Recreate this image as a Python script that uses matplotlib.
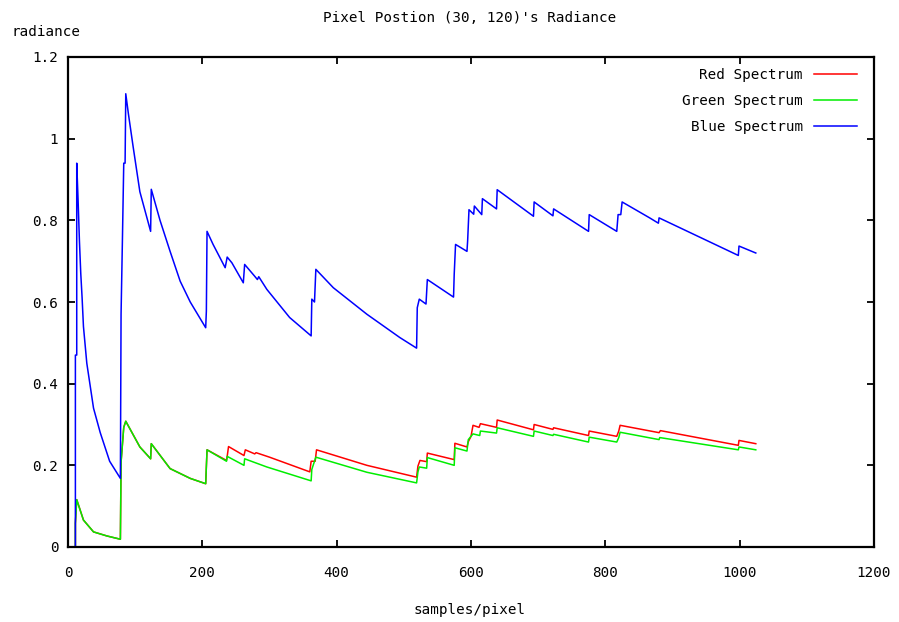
#!/usr/bin/env python
# -*- coding: utf-8 -*-

import matplotlib
matplotlib.use('Agg')
import matplotlib.pyplot as plt

# samples/pixel vs radiance
red_x = [0, 11, 11, 13, 23, 38, 58, 78, 79, 83, 86, 107, 123, 124, 152, 182,
         205, 207, 236, 237, 239, 262, 264, 278, 280, 300, 360, 362, 368, 370,
         445, 519, 521, 524, 534, 535, 575, 576, 594, 596, 600, 603, 612, 614,
         638, 639, 693, 694, 722, 723, 775, 776, 817, 820, 822, 880, 882, 998,
         999, 1024]
red_y = [0, 0, 0.058, 0.116, 0.066, 0.037, 0.027, 0.019, 0.208, 0.293, 0.308,
         0.245, 0.216, 0.253, 0.192, 0.168, 0.155, 0.238, 0.212, 0.222, 0.246,
         0.224, 0.238, 0.228, 0.231, 0.220, 0.184, 0.210, 0.210, 0.238, 0.200,
         0.171, 0.198, 0.212, 0.209, 0.230, 0.214, 0.254, 0.245, 0.258, 0.271,
         0.298, 0.293, 0.302, 0.293, 0.311, 0.287, 0.300, 0.288, 0.292, 0.273,
         0.284, 0.271, 0.284, 0.298, 0.280, 0.285, 0.249, 0.261, 0.253]

green_x = [0, 11, 11, 13, 23, 38, 58, 78, 79, 83, 86, 107, 123, 124, 152,
           182, 205, 207, 236, 237, 262, 263, 296, 362, 363, 369, 445, 519,
           521, 523, 534, 535, 575, 576, 594, 596, 603, 613, 614, 638, 639,
           693, 694, 722, 723, 775, 776, 817, 820, 822, 880, 881, 998, 999,
           1024]
green_y = [0, 0, 0.058, 0.116, 0.066, 0.037, 0.027, 0.019, 0.208, 0.293,
           0.308, 0.245, 0.216, 0.253, 0.192, 0.168, 0.155, 0.238, 0.210,
           0.222, 0.200, 0.216, 0.196, 0.162, 0.190, 0.220, 0.183, 0.157,
           0.184, 0.196, 0.193, 0.219, 0.200, 0.243, 0.235, 0.263, 0.277,
           0.273, 0.284, 0.279, 0.292, 0.271, 0.284, 0.273, 0.276, 0.257,
           0.269, 0.257, 0.268, 0.281, 0.263, 0.268, 0.238, 0.245, 0.238]

blue_x = [0, 11, 11, 13, 13, 15, 17, 19, 21, 23, 28, 38, 48, 62, 78, 79, 81,
          83, 85, 86, 90, 97, 107, 123, 124, 137, 152, 167, 182, 205, 206, 207,
          216, 234, 237, 244, 261, 263, 278, 282, 284, 296, 330, 362, 363, 367,
          369, 395, 445, 494, 519, 520, 523, 533, 535, 574, 575, 577, 594, 595,
          597, 604, 605, 616, 617, 638, 639, 693, 694, 722, 723, 775, 776, 817,
          819, 823, 825, 866, 879, 880, 998, 999, 1024]
blue_y = [0, 0, 0.47, 0.47, 0.94, 0.85, 0.75, 0.67, 0.61, 0.54, 0.45, 0.34,
          0.28, 0.21, 0.168, 0.57, 0.75, 0.94, 0.94, 1.11, 1.06, 0.98, 0.87,
          0.773, 0.876, 0.80, 0.724, 0.651, 0.60, 0.537, 0.578, 0.773, 0.741,
          0.684, 0.71, 0.696, 0.647, 0.692, 0.663, 0.655, 0.662, 0.631, 0.562,
          0.517, 0.607, 0.60, 0.68, 0.635, 0.570, 0.513, 0.487, 0.586, 0.607,
          0.595, 0.655, 0.612, 0.668, 0.741, 0.724, 0.75, 0.826, 0.815, 0.835,
          0.814, 0.853, 0.828, 0.875, 0.810, 0.845, 0.811, 0.828, 0.773, 0.814,
          0.773, 0.814, 0.814, 0.845, 0.806, 0.793, 0.806, 0.714, 0.737, 0.72]

x_ticks = [0, 200, 400, 600, 800, 1000, 1200]
y_ticks = [0, 0.2, 0.4, 0.6, 0.8, 1.0, 1.2]
y_tick_labels = ['0', '0.2', '0.4', '0.6', '0.8', '1', '1.2']

FONT = 'DejaVu Sans Mono'
W, H = 899, 622


def _plot():
    plt.rcParams['font.family'] = FONT
    plt.rcParams['font.size'] = 10.3

    fig = plt.figure(figsize=(W / 100.0, H / 100.0), dpi=100)
    ax = fig.add_axes([68.0 / W, 1 - 547.0 / H, 806.0 / W, 490.0 / H])

    ax.plot(red_x, red_y, color='#ff0000', lw=1.1, label='Red Spectrum')
    ax.plot(green_x, green_y, color='#00ee00', lw=1.1, label='Green Spectrum')
    ax.plot(blue_x, blue_y, color='#0000ff', lw=1.1, label='Blue Spectrum')

    ax.set_xlim(0, 1200)
    ax.set_ylim(0, 1.2)
    ax.set_xticks(x_ticks)
    ax.set_yticks(y_ticks)
    ax.set_yticklabels(y_tick_labels)
    ax.tick_params(direction='in', length=5, width=1.3, top=True,
                   right=True, color='black')
    ax.tick_params(axis='x', pad=14)
    ax.tick_params(axis='y', pad=7)
    for s in ax.spines.values():
        s.set_linewidth(1.6)

    fig.text(470.0 / W, 1 - 18.0 / H, "Pixel Postion (30, 120)'s Radiance",
             ha='center', va='center')
    fig.text(12.0 / W, 1 - 32.0 / H, 'radiance', ha='left', va='center')
    fig.text(470.0 / W, 1 - 610.0 / H, 'samples/pixel', ha='center',
             va='center')

    ax.legend(loc='upper right', frameon=False, markerfirst=False,
              handlelength=3.0, handletextpad=0.8, labelspacing=0.85,
              borderpad=0, borderaxespad=0,
              bbox_to_anchor=(857.0 / W, 1 - 68.0 / H),
              bbox_transform=fig.transFigure)

    plt.savefig('out.png', dpi=100)


if __name__ == '__main__':
    _plot()
